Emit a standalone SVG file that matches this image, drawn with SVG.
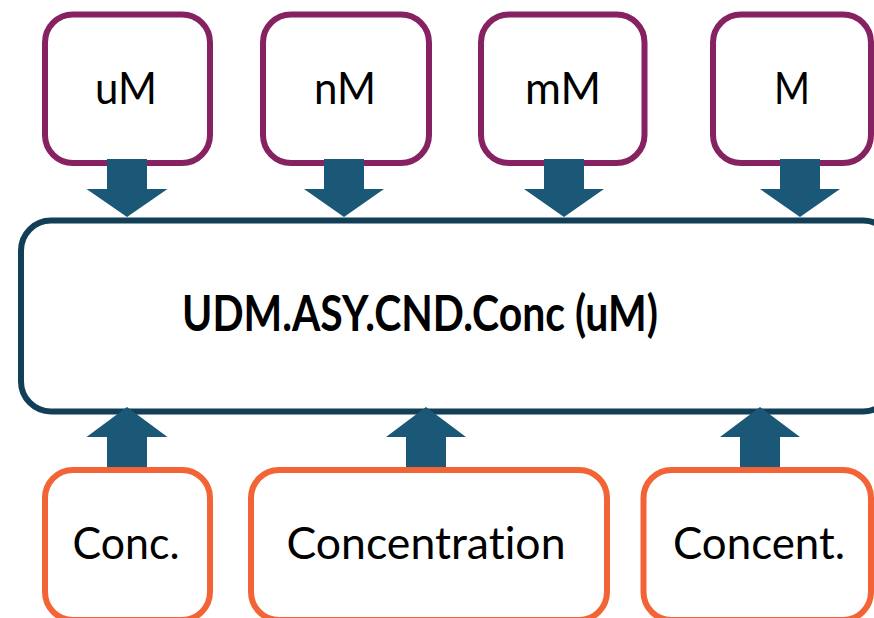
<svg xmlns="http://www.w3.org/2000/svg" width="874" height="618" viewBox="0 0 874 618">
<style>
.unit{fill:#fff;stroke:#862262;stroke-width:6}
.syn{fill:#fff;stroke:#f26436;stroke-width:6}
.main{fill:#fff;stroke:#113f57;stroke-width:6}
.lbl{font-family:Lato,"Open Sans","Liberation Sans",sans-serif;font-size:45px;fill:#000;text-anchor:middle;font-variant-ligatures:none}
.title{font-family:Lato,"Open Sans","Liberation Sans",sans-serif;font-size:50px;font-weight:bold;fill:#000;text-anchor:middle}
.arr{fill:#1b5878}
</style>
<rect width="874" height="618" fill="#fff"/>
<g id="main-node">
<rect class="main" x="21" y="220.5" width="872" height="191" rx="30"/>
<text class="title" x="420" y="331" textLength="476" lengthAdjust="spacingAndGlyphs">UDM.ASY.CND.Conc (uM)</text>
</g>
<g id="node-uM">
<rect class="unit" x="45" y="14.5" width="165" height="148.5" rx="28"/>
<text class="lbl" x="126" y="104" textLength="62" lengthAdjust="spacingAndGlyphs">uM</text>
</g>
<g id="node-nM">
<rect class="unit" x="263" y="14.5" width="166" height="148.5" rx="28"/>
<text class="lbl" x="345" y="104" textLength="62" lengthAdjust="spacingAndGlyphs">nM</text>
</g>
<g id="node-mM">
<rect class="unit" x="481" y="14.5" width="163.5" height="148.5" rx="28"/>
<text class="lbl" x="563" y="104" textLength="76" lengthAdjust="spacingAndGlyphs">mM</text>
</g>
<g id="node-M">
<rect class="unit" x="713" y="14.5" width="158" height="148.5" rx="28"/>
<text class="lbl" x="792" y="104" textLength="36" lengthAdjust="spacingAndGlyphs">M</text>
</g>
<g id="node-conc">
<rect class="syn" x="45" y="470" width="165" height="150" rx="28"/>
<text class="lbl" x="126" y="559" textLength="107" lengthAdjust="spacingAndGlyphs">Conc.</text>
</g>
<g id="node-concentration">
<rect class="syn" x="251" y="470" width="356" height="150" rx="28"/>
<text class="lbl" x="426" y="559" textLength="279" lengthAdjust="spacingAndGlyphs">Concentration</text>
</g>
<g id="node-concent">
<rect class="syn" x="643.5" y="470" width="227.5" height="150" rx="28"/>
<text class="lbl" x="759" y="559" textLength="172" lengthAdjust="spacingAndGlyphs">Concent.</text>
</g>
<g id="connectors">
<polygon class="arr" points="107,159 147,159 147,189 167.5,189 127,217 86.5,189 107,189"/>
<polygon class="arr" points="324,159 364,159 364,189 384,189 344,217 304,189 324,189"/>
<polygon class="arr" points="544,159 584,159 584,189 604,189 564,217 524,189 544,189"/>
<polygon class="arr" points="780,159 820,159 820,189 840,189 800,217 760,189 780,189"/>
<polygon class="arr" points="107,467 147,467 147,437 167.5,437 127,407 86.5,437 107,437"/>
<polygon class="arr" points="406,467 446,467 446,437 466,437 426,407 386,437 406,437"/>
<polygon class="arr" points="740,467 780,467 780,437 800,437 760,407 720,437 740,437"/>
</g>
</svg>
